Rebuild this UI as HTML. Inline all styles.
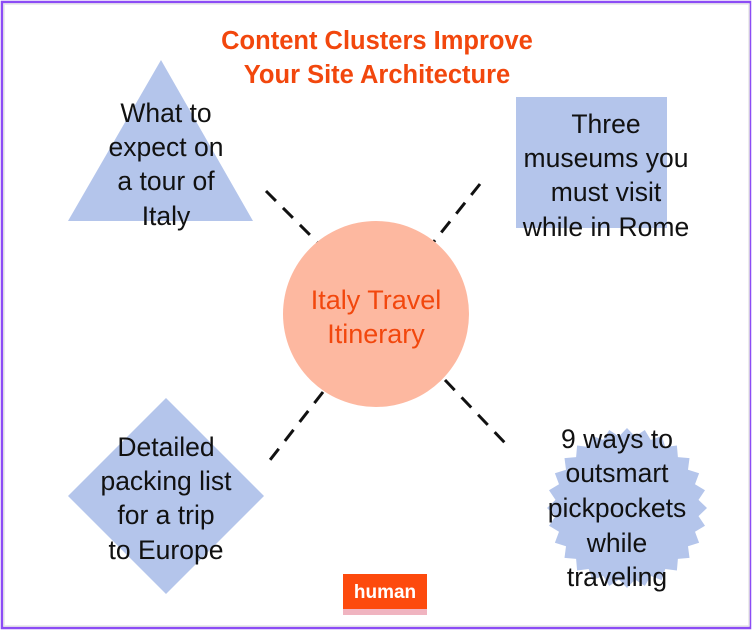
<!DOCTYPE html>
<html><head><meta charset="utf-8"><style>
html,body{margin:0;padding:0;background:#fff;}
svg{display:block;}
text{font-family:"Liberation Sans",sans-serif;}
</style></head><body>
<svg width="754" height="632" viewBox="0 0 754 632">
<rect x="0" y="0" width="754" height="632" fill="#fff"/>
<rect x="2" y="2" width="748" height="626" fill="none" stroke="#8c4cf5" stroke-width="2.5"/>
<rect x="4" y="4" width="745" height="622" fill="none" stroke="#e6e6e6" stroke-width="1.5"/>
<g font-weight="bold" font-size="25.5" fill="#f2470d" text-anchor="middle">
<text x="377" y="49">Content Clusters Improve</text>
<text x="377" y="83">Your Site Architecture</text>
</g>
<g stroke="#111" stroke-width="3" stroke-dasharray="14 10">
<line x1="266" y1="191" x2="318" y2="243"/>
<line x1="480" y1="184" x2="432" y2="244"/>
<line x1="323" y1="392" x2="270" y2="460"/>
<line x1="445" y1="380" x2="505" y2="443"/>
</g>
<polygon points="161,60 253,221 68,221" fill="#b4c5eb"/>
<rect x="516" y="97" width="151" height="131" fill="#b4c5eb"/>
<polygon points="166,398 264,496 166,594 68,496" fill="#b4c5eb"/>
<polygon id="star" fill="#b4c5eb"/>
<circle cx="376" cy="314" r="93" fill="#fdb8a0"/>
<g font-size="27" fill="#f2470d" text-anchor="middle">
<text x="376" y="309">Italy Travel</text>
<text x="376" y="343">Itinerary</text>
</g>
<g font-size="26.5" fill="#111" text-anchor="middle">
<g>
<text x="166" y="122">What to</text><text x="166" y="156">expect on</text><text x="166" y="190">a tour of</text><text x="166" y="225">Italy</text>
</g>
<g>
<text x="606" y="133">Three</text><text x="606" y="167">museums you</text><text x="606" y="201">must visit</text><text x="606" y="236">while in Rome</text>
</g>
<g>
<text x="166" y="456">Detailed</text><text x="166" y="490">packing list</text><text x="166" y="524">for a trip</text><text x="166" y="559">to Europe</text>
</g>
<g>
<text x="617" y="448">9 ways to</text><text x="617" y="482">outsmart</text><text x="617" y="517">pickpockets</text><text x="617" y="552">while</text><text x="617" y="586">traveling</text>
</g>
</g>
<g>
<rect x="343" y="574" width="84" height="35" fill="#fd4a0d"/>
<rect x="343" y="609" width="84" height="6" fill="#f0b4c0"/>
<text x="385" y="598" font-size="19" font-weight="bold" fill="#fff" text-anchor="middle">human</text>
</g>
</svg>
<script>
var p=[],cx=627,cy=508,n=28;
for(var i=0;i<n*2;i++){var r=i%2?72:80,a=Math.PI*i/n;p.push((cx+r*Math.cos(a)).toFixed(1)+','+(cy+r*Math.sin(a)).toFixed(1));}
document.getElementById('star').setAttribute('points',p.join(' '));
</script>
</body></html>
